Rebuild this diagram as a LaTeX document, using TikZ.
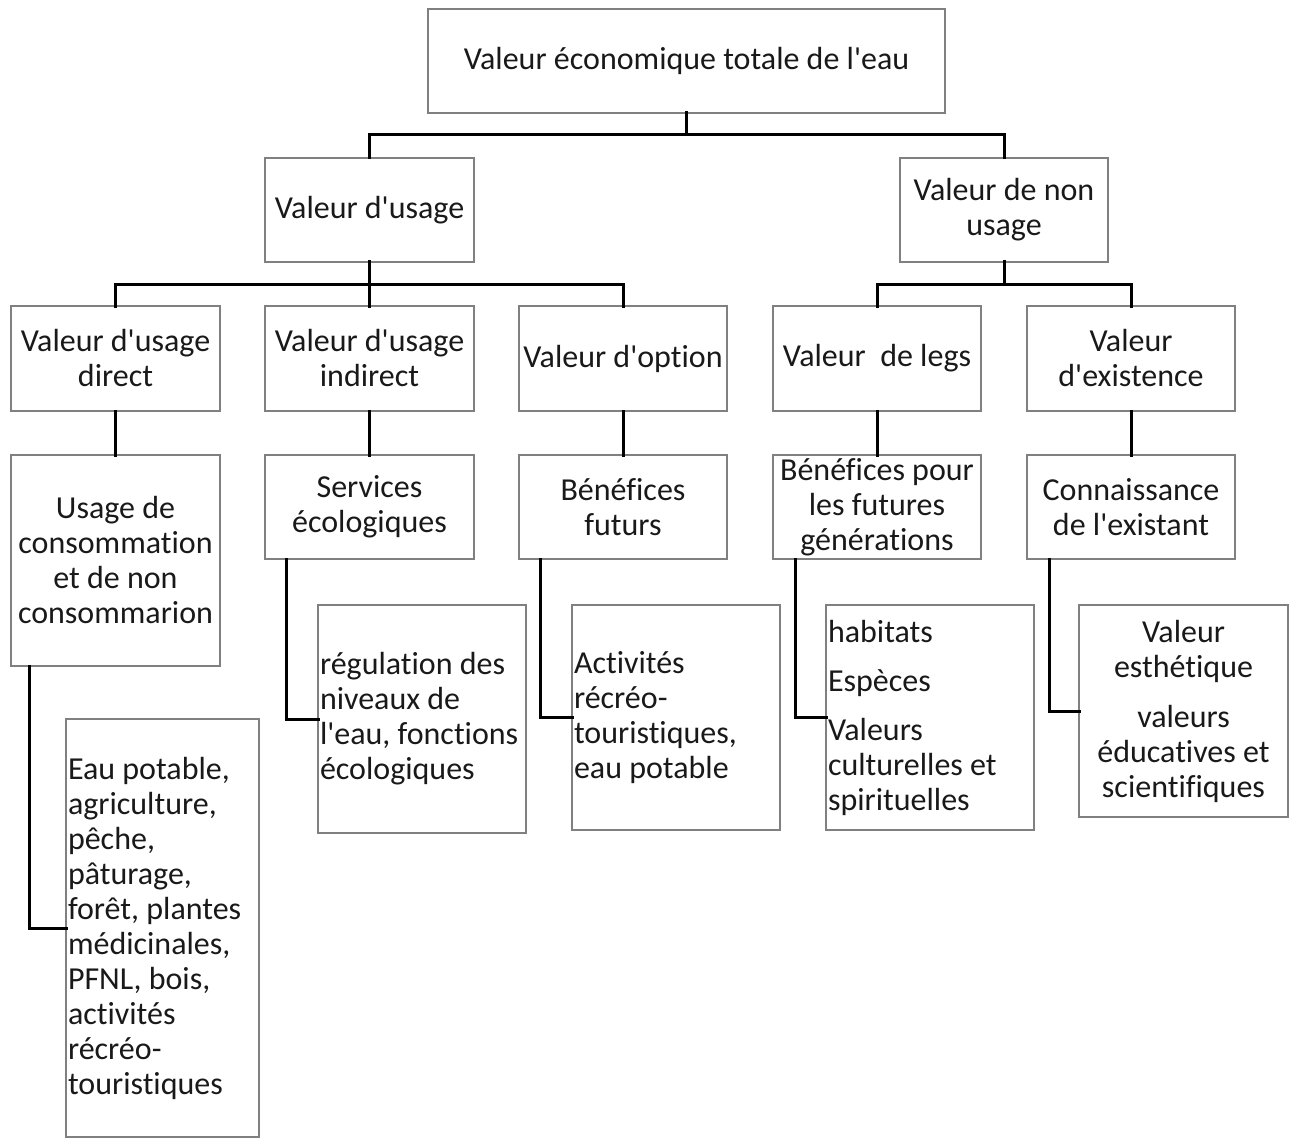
\documentclass[tikz,border=0pt]{standalone}
\usepackage{fontspec}
\setmainfont{Carlito}[Ligatures={NoCommon}]
\newcommand{\q}{\textquotesingle}
\tikzset{
  bx/.style={draw=black!50, line width=1.5pt, inner sep=0pt, outer sep=0pt, align=flush center,
     text=black!90, font=\fontsize{32}{35}\selectfont},
  lbx/.style={bx, align=flush left, inner xsep=2pt},
  con/.style={draw=black, line width=3pt, line cap=rect}
}
\begin{document}
\begin{tikzpicture}[x=1pt,y=-1pt]
\useasboundingbox (0,0) rectangle (1296,1142);
% level 1
\node[bx, minimum width=517, minimum height=104] (top) at (686.5,61) {Valeur économique totale de l\q eau};
% level 2
\node[bx, minimum width=209, minimum height=104] (usage) at (369.5,210) {Valeur d\q usage};
\node[bx, minimum width=208, minimum height=104] (nonusage) at (1004,210) {Valeur de non\\usage};
% level 3
\node[bx, minimum width=209, minimum height=105] (direct) at (115.5,358.5) {Valeur d\q usage\\direct};
\node[bx, minimum width=209, minimum height=105] (indirect) at (369.5,358.5) {Valeur d\q usage\\indirect};
\node[bx, minimum width=208, minimum height=105] (option) at (623,358.5) {Valeur d\q option};
\node[bx, minimum width=208, minimum height=105] (legs) at (877,358.5) {Valeur\ \ de legs};
\node[bx, minimum width=208, minimum height=105] (exist) at (1131,358.5) {Valeur\\d\q existence};
% level 4
\node[bx, minimum width=209, minimum height=211] (conso) at (115.5,560.5) {Usage de\\consommation\\et de non\\consommarion};
\node[bx, minimum width=209, minimum height=104] (serv) at (369.5,507) {Services\\écologiques};
\node[bx, minimum width=208, minimum height=104] (benf) at (623,507) {Bénéfices\\futurs};
\node[bx, minimum width=208, minimum height=104] (benfg) at (877,507) {Bénéfices pour\\les futures\\générations};
\node[bx, minimum width=208, minimum height=104] (conn) at (1131,507) {Connaissance\\de l\q existant};
% level 5
\node[lbx, text width=189, minimum height=418] (eau) at (162.5,928) {Eau potable,\\agriculture,\\pêche,\\pâturage,\\forêt, plantes\\médicinales,\\PFNL, bois,\\activités\\récréo-\\touristiques};
\node[lbx, text width=204, minimum height=228] (reg) at (422,719) {régulation des\\niveaux de\\l\q eau, fonctions\\écologiques};
\node[lbx, text width=204, minimum height=225] (act) at (676,717.5) {Activités\\récréo-\\touristiques,\\eau potable};
\node[lbx, text width=204, minimum height=225] (hab) at (930,717.5) {habitats\\[14pt]Espèces\\[14pt]Valeurs\\culturelles et\\spirituelles};
\node[bx, minimum width=209, minimum height=212] (est) at (1183.5,711) {Valeur\\esthétique\\[15pt]valeurs\\éducatives et\\scientifiques};
% connectors
\draw[con] (top.south) -- (top.south |- 0,135);
\draw[con] (usage.north) |- (nonusage.north |- 0,135) -- (nonusage.north);
\draw[con] (usage.south) -- (indirect.north);
\draw[con] (direct.north) |- (option.north |- 0,284) -- (option.north);
\draw[con] (nonusage.south) -- (nonusage.south |- 0,284);
\draw[con] (legs.north) |- (exist.north |- 0,284) -- (exist.north);
\draw[con] (direct.south) -- (conso.north);
\draw[con] (indirect.south) -- (serv.north);
\draw[con] (option.south) -- (benf.north);
\draw[con] (legs.south) -- (benfg.north);
\draw[con] (exist.south) -- (conn.north);
\draw[con] ([xshift=18]conso.south west) |- (eau.west);
\draw[con] ([xshift=21]serv.south west) |- (reg.west);
\draw[con] ([xshift=21]benf.south west) |- (act.west);
\draw[con] ([xshift=22]benfg.south west) |- (hab.west);
\draw[con] ([xshift=22]conn.south west) |- (est.west);
\end{tikzpicture}
\end{document}
